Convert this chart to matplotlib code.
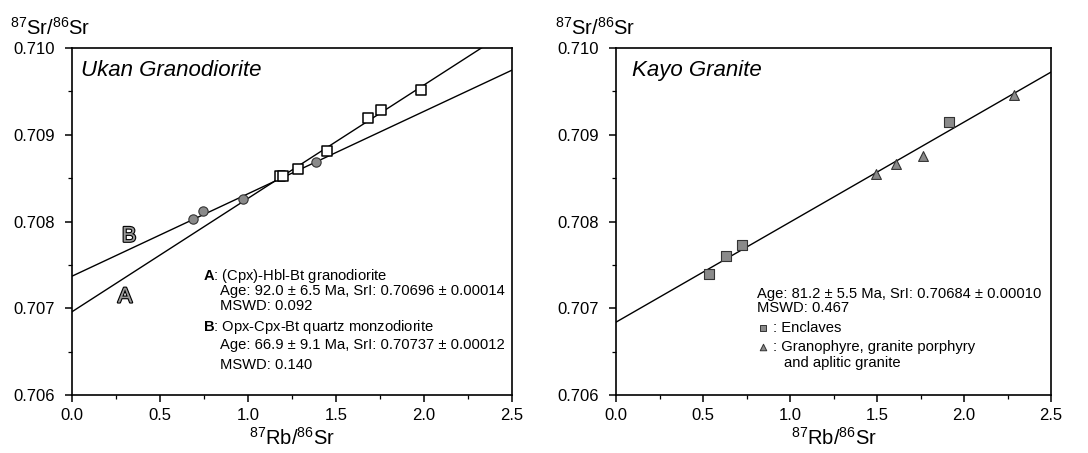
import matplotlib
matplotlib.use("Agg")
import matplotlib.pyplot as plt
import matplotlib.patheffects as pe
from matplotlib.ticker import MultipleLocator, FormatStrFormatter
import numpy as np

plt.rcParams['font.family'] = ['Liberation Sans', 'DejaVu Sans']
plt.rcParams['mathtext.fontset'] = 'custom'
plt.rcParams['mathtext.rm'] = 'Liberation Sans'
plt.rcParams['mathtext.bf'] = 'Liberation Sans:bold'

# Ukan Granodiorite
ukan_A_x = [1.182, 1.200, 1.286, 1.451, 1.682, 1.756, 1.981]
ukan_A_y = [0.70853, 0.70853, 0.70861, 0.70881, 0.70919, 0.70928, 0.70952]
ukan_B_x = [0.689, 0.744, 0.970, 1.386]
ukan_B_y = [0.70803, 0.70812, 0.70826, 0.70869]
# isochron lines: intercept (SrI) and slope
line_A = (0.70696, 0.001307)
line_B = (0.70737, 0.000950)

# Kayo Granite
kayo_encl_x = [0.536, 0.630, 0.722, 1.912]
kayo_encl_y = [0.70740, 0.70760, 0.70773, 0.70915]
kayo_gran_x = [1.494, 1.607, 1.766, 2.289]
kayo_gran_y = [0.70855, 0.70866, 0.70876, 0.70946]
line_K = (0.70684, 0.001153)

fig = plt.figure(figsize=(10.88, 4.53), dpi=100)
ax1 = fig.add_axes([0.0662, 0.128, 0.4044, 0.766])
ax2 = fig.add_axes([0.5662, 0.128, 0.3998, 0.766])

xx = np.array([0.0, 2.5])


def style(ax):
    ax.set_xlim(0, 2.5)
    ax.set_ylim(0.706, 0.710)
    ax.xaxis.set_major_locator(MultipleLocator(0.5))
    ax.xaxis.set_minor_locator(MultipleLocator(0.25))
    ax.yaxis.set_major_locator(MultipleLocator(0.001))
    ax.yaxis.set_minor_locator(MultipleLocator(0.0005))
    ax.xaxis.set_major_formatter(FormatStrFormatter('%.1f'))
    ax.yaxis.set_major_formatter(FormatStrFormatter('%.3f'))
    ax.tick_params(which='major', direction='out', length=5, width=1.1,
                   labelsize=12, pad=4.5, top=False, right=False)
    ax.tick_params(axis='y', which='major', pad=7)
    ax.tick_params(which='minor', direction='out', length=3, width=0.9,
                   top=False, right=False)
    for s in ax.spines.values():
        s.set_linewidth(1.2)
    ax.set_xlabel(r'$^{87}$Rb/$^{86}$Sr', fontsize=14.5, labelpad=3)
    ax.text(-0.141, 1.037, r'$^{87}$Sr/$^{86}$Sr', transform=ax.transAxes,
            fontsize=14.5, ha='left', va='baseline')


style(ax1)
style(ax2)

# left panel
for a, b in (line_A, line_B):
    ax1.plot(xx, a + b * xx, color='black', lw=1.0, zorder=2)
ax1.scatter(ukan_B_x, ukan_B_y, s=45, marker='o', facecolor='#8a8a8a',
            edgecolor='#333333', linewidth=0.8, zorder=3)
ax1.scatter(ukan_A_x, ukan_A_y, s=50, marker='s', facecolor='white',
            edgecolor='black', linewidth=1.1, zorder=4)
ax1.text(0.02, 0.935, 'Ukan Granodiorite', transform=ax1.transAxes,
         fontsize=16, style='italic', ha='left', va='center')
letter_fx = [pe.Stroke(linewidth=1.6, foreground='black'), pe.Normal()]
ax1.text(0.324, 0.70783, 'B', fontsize=15.5, color='#9a9a9a', ha='center',
         va='center', path_effects=letter_fx)
ax1.text(0.301, 0.70713, 'A', fontsize=15.5, color='#9a9a9a', ha='center',
         va='center', path_effects=letter_fx)

tfs = 10.6
ax1.text(0.745, 0.70737, r'$\mathbf{A}$: (Cpx)-Hbl-Bt granodiorite', fontsize=tfs, va='center')
ax1.text(0.84, 0.70720, 'Age: 92.0 ± 6.5 Ma, SrI: 0.70696 ± 0.00014', fontsize=tfs, va='center')
ax1.text(0.84, 0.70703, 'MSWD: 0.092', fontsize=tfs, va='center')
ax1.text(0.745, 0.70678, r'$\mathbf{B}$: Opx-Cpx-Bt quartz monzodiorite', fontsize=tfs, va='center')
ax1.text(0.84, 0.70658, 'Age: 66.9 ± 9.1 Ma, SrI: 0.70737 ± 0.00012', fontsize=tfs, va='center')
ax1.text(0.84, 0.70635, 'MSWD: 0.140', fontsize=tfs, va='center')

# right panel
a, b = line_K
ax2.plot(xx, a + b * xx, color='black', lw=1.0, zorder=2)
ax2.scatter(kayo_encl_x, kayo_encl_y, s=45, marker='s', facecolor='#8a8a8a',
            edgecolor='#333333', linewidth=0.8, zorder=3)
ax2.scatter(kayo_gran_x, kayo_gran_y, s=50, marker='^', facecolor='#8a8a8a',
            edgecolor='#333333', linewidth=0.8, zorder=3)
ax2.text(0.037, 0.935, 'Kayo Granite', transform=ax2.transAxes,
         fontsize=16, style='italic', ha='left', va='center')
ax2.text(0.81, 0.70716, 'Age: 81.2 ± 5.5 Ma, SrI: 0.70684 ± 0.00010', fontsize=tfs, va='center')
ax2.text(0.81, 0.70700, 'MSWD: 0.467', fontsize=tfs, va='center')
ax2.scatter([0.845], [0.70677], s=22, marker='s', facecolor='#8a8a8a',
            edgecolor='#333333', linewidth=0.7, zorder=3)
ax2.text(0.905, 0.70677, ': Enclaves', fontsize=tfs, va='center')
ax2.scatter([0.845], [0.70655], s=22, marker='^', facecolor='#8a8a8a',
            edgecolor='#333333', linewidth=0.7, zorder=3)
ax2.text(0.905, 0.70655, ': Granophyre, granite porphyry', fontsize=tfs, va='center')
ax2.text(0.965, 0.70637, 'and aplitic granite', fontsize=tfs, va='center')

fig.savefig('out.png', dpi=100)
